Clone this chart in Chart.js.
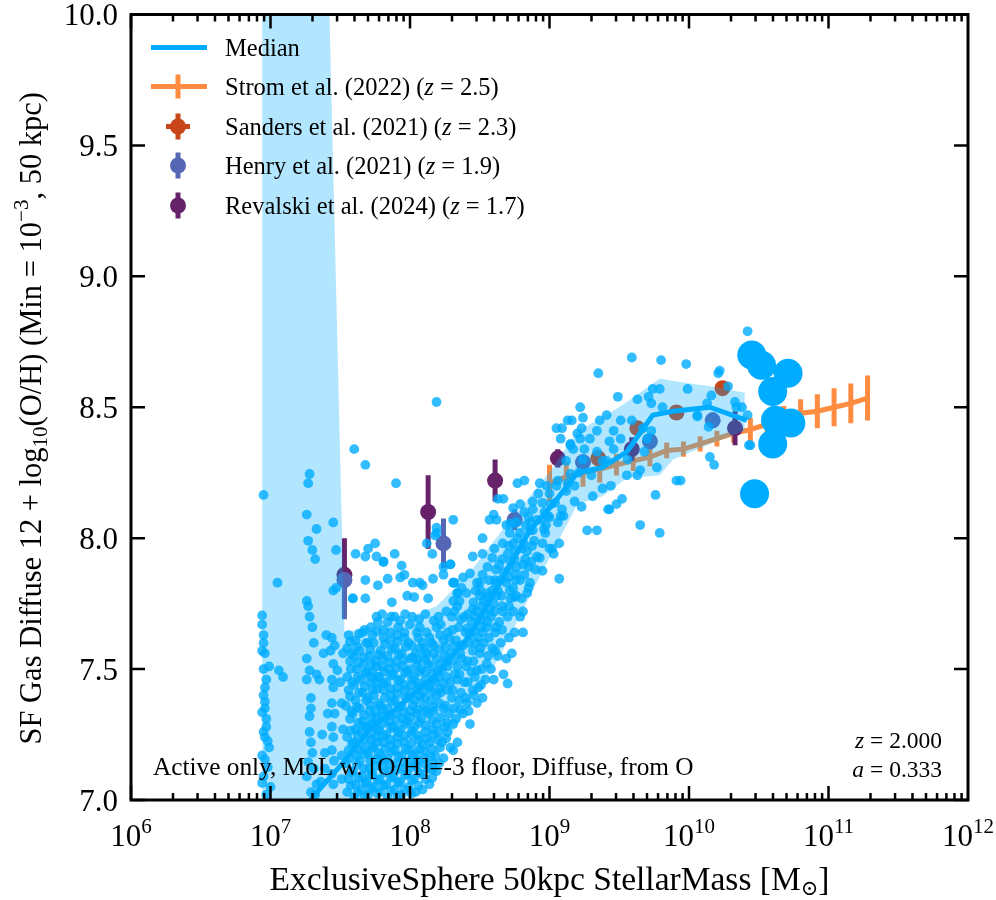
<!DOCTYPE html>
<html lang="en">
<head>
<meta charset="UTF-8">
<title>SF Gas Diffuse metallicity vs stellar mass</title>
<script src="https://cdn.jsdelivr.net/npm/chart.js"></script>
<style>
  body { margin: 0; background: #fff; }
  #wrap { width: 996px; height: 900px; }
</style>
</head>
<body>
<div id="wrap"><canvas id="mzr" width="996" height="900"></canvas></div>
<script>
// values: x = log10(M*/Msun), y = 12 + log10(O/H)

// running median and 16-84% band
const medianLogMass = [7.10, 7.30, 7.50, 7.71, 7.95, 8.19, 8.43, 8.645, 8.86, 9.025, 9.20, 9.38, 9.555, 9.74, 9.885, 10.15, 10.415];
const medianOH      = [6.85, 7.01, 7.13, 7.27, 7.37, 7.48, 7.63, 7.83, 8.03, 8.13, 8.25, 8.27, 8.33, 8.47, 8.485, 8.50, 8.45];
const bandLogMass = [6.94, 7.53, 7.71, 7.95, 8.19, 8.43, 8.645, 8.86, 9.025, 9.20, 9.38, 9.555, 9.79, 9.885, 10.15, 10.40];
const bandLow     = [6.90, 6.98, 7.02, 7.06, 7.17, 7.36, 7.55, 7.78, 7.95, 8.13, 8.16, 8.23, 8.24, 8.30, 8.36, 8.41];
const bandHigh    = [20.6, 7.64, 7.66, 7.69, 7.74, 7.87, 8.02, 8.16, 8.27, 8.41, 8.46, 8.52, 8.61, 8.60, 8.58, 8.555];

// individual galaxies (small dots)
const galaxyDots = [
  // lowest-mass column
  [6.95,8.165],[7.05,7.83],[6.94,7.705],[6.94,7.67],[6.95,7.63],[6.95,7.60],[6.94,7.57],[6.96,7.56],[6.99,7.51],[6.95,7.50],
  [7.06,7.495],[7.09,7.47],[6.97,7.46],[6.96,7.43],[6.95,7.40],[6.96,7.375],[6.96,7.35],[6.94,7.335],[6.97,7.31],[6.97,7.28],
  [6.95,7.26],[6.96,7.24],[6.98,7.225],[6.99,7.20],[6.94,7.17],[6.96,7.155],[6.98,7.125],[6.95,7.09],[6.94,7.065],[7.00,7.05],[6.97,7.02],
  // 7.2 - 7.5
  [7.28,8.245],[7.27,8.21],[7.26,8.09],[7.33,8.035],[7.27,7.99],[7.30,7.955],[7.32,7.92],[7.26,7.76],[7.27,7.74],[7.28,7.70],
  [7.30,7.66],[7.31,7.60],[7.26,7.54],[7.28,7.495],[7.26,7.46],[7.33,7.48],[7.35,7.46],[7.29,7.39],[7.29,7.35],[7.28,7.32],
  [7.28,7.26],[7.29,7.22],[7.30,7.18],[7.27,7.145],[7.31,7.12],[7.26,7.09],[7.33,7.06],[7.29,7.03],[7.32,7.02],[7.36,7.07],[7.39,7.12],
  [7.44,7.62],[7.46,7.59],[7.43,7.57],[7.45,7.52],[7.48,7.495],[7.44,7.46],[7.45,7.43],[7.44,7.37],[7.46,7.33],[7.44,7.28],
  [7.45,7.24],[7.44,7.19],[7.455,7.15],[7.44,7.10],[7.45,7.06],[7.47,7.955],[7.45,8.06],[7.47,7.81],[7.45,7.80],
  [7.38,7.56],[7.40,7.63],[7.37,7.25],[7.41,7.33],[7.39,7.18],[7.51,7.08],[7.51,7.17],[7.52,7.27],[7.51,7.37],[7.50,7.45],[7.52,7.56],
  // dense floor
  [7.55,7.03],[7.56,7.08],[7.54,7.14],[7.56,7.19],[7.55,7.24],[7.57,7.31],[7.54,7.36],[7.56,7.42],[7.55,7.47],[7.57,7.53],[7.55,7.58],[7.56,7.63],
  [7.575,7.055],[7.58,7.105],[7.57,7.16],[7.585,7.215],[7.575,7.265],[7.58,7.34],[7.57,7.395],[7.585,7.45],[7.575,7.50],[7.58,7.56],[7.57,7.605],
  [7.60,7.01],[7.61,7.06],[7.59,7.11],[7.62,7.17],[7.60,7.22],[7.61,7.27],[7.59,7.33],[7.61,7.38],[7.60,7.44],[7.62,7.50],[7.60,7.55],[7.61,7.61],[7.59,7.77],
  [7.625,7.03],[7.63,7.085],[7.62,7.135],[7.635,7.19],[7.625,7.245],[7.63,7.295],[7.62,7.355],[7.635,7.41],[7.625,7.47],[7.63,7.525],[7.62,7.585],[7.635,7.635],
  [7.65,7.04],[7.66,7.09],[7.64,7.15],[7.67,7.20],[7.65,7.26],[7.66,7.30],[7.64,7.35],[7.66,7.41],[7.65,7.46],[7.67,7.52],[7.64,7.57],[7.66,7.64],[7.68,7.84],
  [7.675,7.015],[7.68,7.065],[7.67,7.12],[7.685,7.175],[7.675,7.23],[7.68,7.28],[7.67,7.325],[7.685,7.38],[7.675,7.435],[7.68,7.485],[7.67,7.545],[7.685,7.60],[7.675,7.65],
  [7.70,7.02],[7.69,7.07],[7.71,7.12],[7.70,7.18],[7.72,7.23],[7.69,7.28],[7.71,7.34],[7.70,7.39],[7.72,7.45],[7.69,7.49],[7.71,7.55],[7.70,7.60],[7.72,7.66],[7.70,7.96],
  [7.72,7.045],[7.725,7.095],[7.715,7.15],[7.73,7.205],[7.72,7.255],[7.725,7.31],[7.715,7.365],[7.73,7.42],[7.72,7.47],[7.725,7.52],[7.715,7.575],[7.73,7.63],
  [7.74,7.05],[7.73,7.10],[7.75,7.155],[7.74,7.20],[7.76,7.24],[7.73,7.29],[7.75,7.34],[7.74,7.40],[7.76,7.445],[7.73,7.49],[7.75,7.53],[7.74,7.60],[7.76,7.70],[7.76,7.93],
  [7.765,7.025],[7.77,7.075],[7.76,7.13],[7.775,7.18],[7.765,7.22],[7.77,7.265],[7.76,7.315],[7.775,7.37],[7.765,7.425],[7.77,7.47],[7.76,7.51],[7.775,7.555],[7.765,7.645],[7.77,7.68],
  [7.79,7.03],[7.78,7.08],[7.80,7.13],[7.79,7.17],[7.81,7.22],[7.78,7.27],[7.80,7.32],[7.79,7.36],[7.81,7.42],[7.78,7.47],[7.80,7.51],[7.79,7.57],[7.81,7.62],[7.80,7.71],[7.81,7.91],
  [7.81,7.055],[7.815,7.105],[7.805,7.155],[7.82,7.195],[7.81,7.245],[7.815,7.295],[7.805,7.345],[7.82,7.39],[7.81,7.445],[7.815,7.49],[7.805,7.54],[7.82,7.595],[7.81,7.65],
  [7.84,7.01],[7.83,7.06],[7.85,7.11],[7.84,7.16],[7.86,7.21],[7.83,7.25],[7.85,7.30],[7.84,7.35],[7.86,7.40],[7.83,7.45],[7.85,7.50],[7.84,7.55],[7.86,7.61],[7.84,7.68],[7.84,7.845],[7.87,7.755],
  [7.86,7.035],[7.865,7.085],[7.855,7.135],[7.87,7.185],[7.86,7.23],[7.865,7.275],[7.855,7.325],[7.87,7.375],[7.86,7.425],[7.865,7.475],[7.855,7.525],[7.87,7.575],[7.86,7.64],[7.865,7.70],
  [7.89,7.04],[7.88,7.09],[7.90,7.14],[7.89,7.19],[7.91,7.24],[7.88,7.28],[7.90,7.33],[7.89,7.38],[7.91,7.43],[7.88,7.48],[7.90,7.53],[7.89,7.58],[7.91,7.63],[7.89,7.70],[7.89,7.94],
  [7.91,7.015],[7.915,7.065],[7.905,7.115],[7.92,7.165],[7.91,7.215],[7.915,7.26],[7.905,7.305],[7.92,7.355],[7.91,7.405],[7.915,7.455],[7.905,7.505],[7.92,7.555],[7.91,7.605],[7.915,7.66],
  [7.94,7.02],[7.93,7.07],[7.95,7.12],[7.94,7.17],[7.96,7.22],[7.93,7.27],[7.95,7.31],[7.94,7.36],[7.96,7.42],[7.93,7.46],[7.95,7.51],[7.94,7.56],[7.96,7.64],[7.93,7.685],[7.93,7.85],[7.94,7.895],
  [7.96,7.04],[7.965,7.095],[7.955,7.145],[7.97,7.195],[7.96,7.245],[7.965,7.29],[7.955,7.335],[7.97,7.39],[7.96,7.44],[7.965,7.485],[7.955,7.535],[7.97,7.585],[7.96,7.62],[7.965,7.71],
  [7.99,7.05],[7.98,7.10],[8.00,7.15],[7.99,7.19],[8.01,7.25],[7.98,7.30],[8.00,7.34],[7.99,7.39],[8.01,7.44],[7.98,7.49],[8.00,7.54],[7.99,7.60],[8.00,7.67],[7.98,7.78],[7.96,7.86],
  [8.01,7.025],[8.015,7.075],[8.005,7.125],[8.02,7.17],[8.01,7.215],[8.015,7.265],[8.005,7.315],[8.02,7.36],[8.01,7.41],[8.015,7.46],[8.005,7.50],[8.02,7.545],[8.01,7.59],[8.015,7.70],
  [8.04,7.03],[8.03,7.08],[8.05,7.13],[8.04,7.18],[8.06,7.23],[8.03,7.28],[8.05,7.33],[8.04,7.38],[8.06,7.43],[8.03,7.47],[8.05,7.52],[8.04,7.56],[8.05,7.64],[8.03,7.775],[8.02,7.83],
  [8.06,7.055],[8.065,7.105],[8.055,7.15],[8.07,7.195],[8.06,7.245],[8.065,7.295],[8.055,7.345],[8.07,7.395],[8.06,7.445],[8.065,7.49],[8.055,7.535],[8.07,7.58],[8.06,7.62],[8.065,7.69],
  [8.09,7.04],[8.08,7.10],[8.10,7.16],[8.09,7.21],[8.11,7.26],[8.08,7.31],[8.10,7.36],[8.09,7.41],[8.11,7.46],[8.08,7.50],[8.10,7.55],[8.09,7.60],[8.07,7.66],[8.09,7.82],[8.07,7.83],
  [8.11,7.08],[8.115,7.135],[8.105,7.185],[8.12,7.235],[8.11,7.285],[8.115,7.34],[8.105,7.39],[8.12,7.44],[8.11,7.49],[8.115,7.535],[8.105,7.58],[8.12,7.64],[8.11,7.71],
  [8.14,7.06],[8.13,7.12],[8.15,7.165],[8.14,7.22],[8.16,7.27],[8.13,7.33],[8.15,7.38],[8.14,7.43],[8.16,7.48],[8.13,7.52],[8.12,7.56],[8.14,7.62],[8.13,7.77],[8.12,7.98],[8.16,7.115],
  [8.16,7.085],[8.165,7.14],[8.155,7.195],[8.17,7.25],[8.16,7.305],[8.165,7.355],[8.155,7.415],[8.17,7.46],[8.16,7.51],[8.165,7.56],[8.155,7.60],[8.17,7.685],
  [8.19,7.11],[8.18,7.17],[8.20,7.23],[8.19,7.29],[8.17,7.34],[8.19,7.40],[8.18,7.45],[8.20,7.49],[8.19,7.54],[8.17,7.59],[8.19,7.66],[8.165,7.845],[8.19,8.02],[8.19,8.04],[8.16,7.94],[8.18,8.01],
  [8.21,7.14],[8.215,7.20],[8.205,7.26],[8.22,7.315],[8.21,7.37],[8.215,7.425],[8.205,7.47],[8.22,7.52],[8.21,7.575],[8.215,7.63],[8.205,7.70],
  [8.24,7.16],[8.23,7.22],[8.25,7.28],[8.24,7.35],[8.22,7.41],[8.24,7.445],[8.23,7.50],[8.25,7.55],[8.24,7.61],[8.22,7.67],[8.24,7.86],[8.24,7.89],[8.27,7.26],
  [8.26,7.235],[8.265,7.295],[8.255,7.36],[8.27,7.42],[8.26,7.47],[8.265,7.53],[8.255,7.585],[8.27,7.64],[8.26,7.72],
  [8.29,7.20],[8.28,7.33],[8.30,7.39],[8.29,7.45],[8.27,7.51],[8.29,7.56],[8.28,7.62],[8.30,7.70],[8.29,7.90],[8.31,8.07],[8.31,7.19],[8.31,7.83],
  [8.31,7.29],[8.315,7.35],[8.305,7.42],[8.32,7.48],[8.31,7.535],[8.315,7.59],[8.305,7.65],[8.32,7.72],[8.31,7.76],
  [8.34,7.22],[8.33,7.31],[8.35,7.38],[8.34,7.46],[8.34,7.51],[8.36,7.56],[8.33,7.61],[8.35,7.66],[8.34,7.74],[8.34,7.79],[8.32,7.83],
  [8.36,7.345],[8.365,7.41],[8.355,7.48],[8.37,7.54],[8.36,7.59],[8.365,7.69],[8.355,7.76],[8.37,7.81],
  [8.38,7.33],[8.40,7.39],[8.39,7.45],[8.41,7.53],[8.38,7.59],[8.40,7.64],[8.39,7.70],[8.38,7.85],
  [8.41,7.37],[8.415,7.45],[8.405,7.51],[8.42,7.60],[8.41,7.655],[8.415,7.71],[8.405,7.79],
  [8.43,7.29],[8.42,7.34],[8.45,7.42],[8.44,7.49],[8.45,7.57],[8.43,7.63],[8.44,7.68],[8.45,7.73],[8.43,7.865],[8.45,7.93],
  // rising ridge
  [8.46,7.40],[8.465,7.47],[8.455,7.53],[8.47,7.60],[8.46,7.645],[8.465,7.70],[8.455,7.755],[8.47,7.80],
  [8.48,7.37],[8.49,7.43],[8.48,7.495],[8.50,7.56],[8.49,7.62],[8.51,7.66],[8.48,7.72],[8.50,7.78],[8.50,7.83],[8.52,8.00],[8.48,7.83],
  [8.51,7.44],[8.515,7.50],[8.505,7.58],[8.52,7.64],[8.51,7.69],[8.515,7.74],[8.505,7.80],[8.52,7.86],
  [8.52,7.39],[8.54,7.46],[8.55,7.52],[8.53,7.60],[8.55,7.66],[8.54,7.71],[8.53,7.76],[8.55,7.775],[8.52,7.94],
  [8.56,7.55],[8.565,7.62],[8.555,7.68],[8.57,7.73],[8.56,7.79],[8.565,7.84],[8.555,7.89],
  [8.60,7.46],[8.58,7.50],[8.59,7.58],[8.61,7.64],[8.58,7.70],[8.60,7.75],[8.59,7.80],[8.61,7.84],[8.59,7.925],[8.57,8.07],[8.60,8.09],[8.62,8.07],
  [8.61,7.57],[8.615,7.66],[8.605,7.72],[8.62,7.78],[8.61,7.83],[8.615,7.88],[8.605,7.96],
  [8.67,7.48],[8.63,7.55],[8.65,7.60],[8.64,7.68],[8.66,7.74],[8.63,7.80],[8.65,7.84],[8.64,7.90],[8.67,8.15],[8.63,8.15],
  [8.66,7.65],[8.665,7.72],[8.655,7.78],[8.67,7.87],[8.66,7.92],[8.665,7.98],
  [8.70,7.445],[8.69,7.54],[8.71,7.62],[8.70,7.70],[8.72,7.77],[8.69,7.83],[8.71,7.88],[8.70,7.94],[8.69,8.05],[8.72,8.055],
  [8.71,7.74],[8.715,7.80],[8.705,7.85],[8.72,7.91],[8.71,7.97],[8.715,8.02],
  [8.73,7.56],[8.75,7.64],[8.74,7.72],[8.76,7.78],[8.75,7.775],[8.74,7.81],[8.76,7.86],[8.75,7.92],[8.74,7.98],[8.74,8.115],
  [8.76,7.84],[8.765,7.89],[8.755,7.95],[8.77,8.00],[8.76,8.06],
  [8.81,7.64],[8.79,7.70],[8.81,7.72],[8.80,7.77],[8.79,7.84],[8.81,7.90],[8.80,7.96],[8.79,8.02],[8.79,8.13],[8.77,8.21],
  [8.82,7.86],[8.825,7.92],[8.815,7.98],[8.83,8.05],[8.82,8.10],
  [8.85,7.81],[8.84,7.79],[8.86,7.83],[8.85,7.89],[8.84,7.95],[8.86,8.03],[8.85,8.08],[8.82,8.22],[8.88,8.11],
  [8.87,7.91],[8.875,7.97],[8.865,8.06],[8.88,8.14],
  [8.88,8.03],[8.90,7.88],[8.91,7.93],[8.89,7.99],[8.91,8.07],[8.92,8.17],
  [8.95,7.875],[8.95,7.98],[8.96,8.035],[8.94,8.07],[8.95,8.135],[8.93,8.21],[8.93,7.925],
  [8.97,8.02],[8.975,8.05],[8.965,8.10],[8.98,8.20],
  [9.00,7.96],[9.02,7.96],[9.00,8.08],[8.99,8.085],[9.01,8.13],[9.00,8.17],[9.03,7.94],[9.04,8.135],
  [9.06,8.06],[9.07,7.98],[9.07,7.845],[9.08,8.085],[9.06,8.22],[9.05,8.42],[9.08,8.38],[9.09,8.42],[9.09,8.11],[9.05,8.20],
  [9.13,8.45],[9.10,8.085],[9.12,8.295],[9.13,8.21],[9.15,8.245],[9.15,8.36],[9.16,8.45],[9.15,8.355],[9.12,8.18],[9.18,8.14],[9.17,8.34],[9.18,8.20],
  [9.20,8.40],[9.22,8.50],[9.24,8.46],[9.22,8.38],[9.23,8.12],[9.24,8.30],[9.23,8.42],[9.25,8.34],[9.21,8.25],
  [9.27,8.03],[9.29,8.38],[9.31,8.16],[9.34,8.41],[9.34,8.33],[9.34,8.03],[9.36,8.45],[9.35,8.63],[9.38,8.19],[9.38,8.295],[9.30,8.24],
  [9.41,8.47],[9.41,8.295],[9.42,8.11],[9.43,8.37],[9.43,8.11],[9.46,8.41],[9.46,8.34],[9.48,8.13],[9.49,8.54],[9.44,8.20],
  [9.51,8.45],[9.51,8.38],[9.52,8.15],[9.555,8.24],[9.59,8.45],[9.63,8.53],[9.63,8.24],[9.59,8.69],[9.56,8.30],
  [9.65,8.26],[9.65,8.05],[9.67,8.42],[9.70,8.38],[9.71,8.54],[9.73,8.41],[9.73,8.515],[9.74,8.57],[9.76,8.165],[9.77,8.27],
  [9.79,8.57],[9.79,8.02],[9.81,8.50],[9.80,8.68],[9.68,8.33],
  [9.91,8.22],[9.94,8.22],[9.99,8.57],[9.98,8.665],[10.06,8.47],[10.06,8.465],[10.13,8.515],[10.14,8.425],[10.15,8.31],[10.16,8.545],
  [10.18,8.28],[10.21,8.63],[10.22,8.64],[10.28,8.58],[10.33,8.52],[10.34,8.50],[10.38,8.50],[10.42,8.79],[10.42,8.47],[10.43,8.355],[10.44,8.355],
  // scattered points above the floor
  [8.19,8.52],[7.60,8.34],[7.68,8.28],[7.90,8.21],[7.61,7.94],[7.68,7.93],[7.75,7.98],[7.81,7.91],[7.77,7.82],[7.59,7.77],
  [7.68,7.77],[8.29,7.90],[8.34,7.79],[8.31,7.83]
];

// the few most massive galaxies (large dots)
const massiveLogMass = [10.45, 10.52, 10.71, 10.60, 10.62, 10.73, 10.60, 10.47];
const massiveOH      = [8.70, 8.66, 8.63, 8.56, 8.45, 8.44, 8.36, 8.17];

// Strom et al. (2022), z = 2.5
const stromLogMass = [9.00, 9.12, 9.24, 9.36, 9.48, 9.60, 9.72, 9.84, 9.96, 10.08, 10.20, 10.32, 10.44, 10.56, 10.68, 10.80, 10.92, 11.04, 11.16, 11.28];
const stromOH      = [8.21, 8.234, 8.25, 8.264, 8.28, 8.295, 8.31, 8.335, 8.34, 8.36, 8.38, 8.40, 8.415, 8.435, 8.455, 8.477, 8.485, 8.50, 8.515, 8.535];
const stromErr     = [0.07, 0.06, 0.054, 0.051, 0.041, 0.038, 0.035, 0.03, 0.029, 0.029, 0.03, 0.035, 0.044, 0.048, 0.05, 0.054, 0.065, 0.073, 0.076, 0.086];

// Sanders et al. (2021), z = 2.3
const sandersLogMass = [9.35, 9.63, 9.91, 10.24];
const sandersOH      = [8.305, 8.42, 8.48, 8.573];

// Henry et al. (2021), z = 1.9
const henryLogMass = [7.53, 8.24, 8.75, 9.24, 9.72, 10.17];
const henryOH      = [7.84, 7.98, 8.07, 8.29, 8.37, 8.45];
const henryErrLo   = [0.15, 0.095, 0.04, 0.03, 0.03, 0.03];
const henryErrHi   = [0.03, 0.095, 0.04, 0.03, 0.03, 0.03];

// Revalski et al. (2024), z = 1.7
const revalskiLogMass = [7.53, 8.13, 8.61, 9.06, 9.59, 10.33];
const revalskiOH      = [7.86, 8.10, 8.22, 8.305, 8.34, 8.42];
const revalskiErr     = [0.14, 0.14, 0.08, 0.035, 0.045, 0.065];

const xTickExponents = [6, 7, 8, 9, 10, 11, 12];
const yTickValues = [7.0, 7.5, 8.0, 8.5, 9.0, 9.5, 10.0];

const BLUE = 'rgb(0,172,255)';
const ORANGE = '#ff8c40';
const SANDERS = '#c8461a';
const HENRY = '#5566b4';
const REVALSKI = '#66236a';
const SERIF = "'Liberation Serif', 'DejaVu Serif', serif";

const pt = (m, y) => ({ x: Math.pow(10, m), y: y });
const series = (ms, ys) => ms.map((m, i) => pt(m, ys[i]));
function errorSegments(ms, ys, lo, hi) {
  const out = [];
  ms.forEach((m, i) => {
    out.push(pt(m, ys[i] - lo[i]), pt(m, ys[i] + hi[i]), { x: Math.pow(10, m), y: null });
  });
  return out;
}

function drawRuns(ctx, runs, x, y, align) {
  let w = 0;
  runs.forEach(r => { ctx.font = r.font; w += ctx.measureText(r.text).width; });
  let cx = align === 'center' ? x - w / 2 : (align === 'right' ? x - w : x);
  runs.forEach(r => {
    ctx.font = r.font;
    ctx.fillText(r.text, cx, y + (r.dy || 0));
    cx += ctx.measureText(r.text).width;
  });
}

const axesAndText = {
  id: 'axesAndText',
  afterDraw(chart) {
    const { ctx, chartArea: a, scales } = chart;
    const xs = scales.x, ys = scales.y;
    ctx.save();
    ctx.strokeStyle = '#000';
    ctx.fillStyle = '#000';
    ctx.textAlign = 'left';
    ctx.textBaseline = 'alphabetic';

    // inward ticks on all four sides
    ctx.lineWidth = 2.5;
    ctx.beginPath();
    for (let e = 6; e < 12; e++) {
      for (let k = 1; k < 10; k++) {
        const px = xs.getPixelForValue(k * Math.pow(10, e));
        const len = k === 1 ? 14 : 7;
        ctx.moveTo(px, a.bottom); ctx.lineTo(px, a.bottom - len);
        ctx.moveTo(px, a.top); ctx.lineTo(px, a.top + len);
      }
    }
    yTickValues.forEach(v => {
      const py = ys.getPixelForValue(v);
      ctx.moveTo(a.left, py); ctx.lineTo(a.left + 14, py);
      ctx.moveTo(a.right, py); ctx.lineTo(a.right - 14, py);
    });
    ctx.stroke();

    ctx.lineWidth = 3;
    ctx.strokeRect(a.left, a.top, a.right - a.left, a.bottom - a.top);

    // tick labels
    yTickValues.forEach(v => {
      const py = ys.getPixelForValue(v);
      drawRuns(ctx, [{ text: v.toFixed(1), font: '31px ' + SERIF }], a.left - 13, py + 10.5, 'right');
    });
    xTickExponents.forEach(e => {
      const px = xs.getPixelForValue(Math.pow(10, e));
      drawRuns(ctx, [
        { text: '10', font: '31px ' + SERIF },
        { text: String(e), font: '21px ' + SERIF, dy: -13 }
      ], px, a.bottom + 46, 'center');
    });

    // axis titles
    drawRuns(ctx, [
      { text: 'ExclusiveSphere 50kpc StellarMass [M', font: '33.5px ' + SERIF },
      { text: '\u2299', font: '21px ' + SERIF, dy: 5 },
      { text: ']', font: '33.5px ' + SERIF }
    ], (a.left + a.right) / 2, 890, 'center');

    ctx.save();
    ctx.translate(41, (a.top + a.bottom) / 2 + 11);
    ctx.rotate(-Math.PI / 2);
    drawRuns(ctx, [
      { text: 'SF Gas Diffuse 12 + log', font: '30.5px ' + SERIF },
      { text: '10', font: '21px ' + SERIF, dy: 6 },
      { text: '(O/H) (Min = 10', font: '30.5px ' + SERIF },
      { text: '\u22123', font: '21px ' + SERIF, dy: -13 },
      { text: ', 50 kpc)', font: '30.5px ' + SERIF }
    ], 0, 0, 'center');
    ctx.restore();

    // annotations
    drawRuns(ctx, [{ text: 'Active only, MoL w. [O/H]=-3 floor, Diffuse, from O', font: '25.3px ' + SERIF }],
      a.left + 22, a.bottom - 25, 'left');
    drawRuns(ctx, [
      { text: 'z', font: 'italic 23.5px ' + SERIF },
      { text: ' = 2.000', font: '23.5px ' + SERIF }
    ], a.right - 26, a.bottom - 52, 'right');
    drawRuns(ctx, [
      { text: 'a', font: 'italic 23.5px ' + SERIF },
      { text: ' = 0.333', font: '23.5px ' + SERIF }
    ], a.right - 26, a.bottom - 23, 'right');

    // legend
    const lx = a.left + 20, tx = a.left + 94, cx = a.left + 47;
    const rows = [a.top + 33, a.top + 72, a.top + 112, a.top + 151, a.top + 191];
    ctx.lineCap = 'butt';
    ctx.lineWidth = 5;
    ctx.strokeStyle = BLUE;
    ctx.beginPath(); ctx.moveTo(lx, rows[0]); ctx.lineTo(lx + 56, rows[0]); ctx.stroke();
    ctx.strokeStyle = ORANGE;
    ctx.beginPath();
    ctx.moveTo(lx, rows[1]); ctx.lineTo(lx + 56, rows[1]);
    ctx.moveTo(cx, rows[1] - 12); ctx.lineTo(cx, rows[1] + 12);
    ctx.stroke();
    function dotWithBar(color, y, withCross) {
      ctx.strokeStyle = color; ctx.fillStyle = color;
      ctx.beginPath();
      ctx.moveTo(cx, y - 13); ctx.lineTo(cx, y + 13);
      if (withCross) { ctx.moveTo(cx - 12, y); ctx.lineTo(cx + 12, y); }
      ctx.stroke();
      ctx.beginPath(); ctx.arc(cx, y, 8, 0, Math.PI * 2); ctx.fill();
    }
    dotWithBar(SANDERS, rows[2], true);
    dotWithBar(HENRY, rows[3], false);
    dotWithBar(REVALSKI, rows[4], false);

    ctx.fillStyle = '#000';
    const lf = '24.5px ' + SERIF, lfi = 'italic 24.5px ' + SERIF;
    drawRuns(ctx, [{ text: 'Median', font: lf }], tx, rows[0] + 8, 'left');
    const legendText = [
      ['Strom et al. (2022) (', '2.5'],
      ['Sanders et al. (2021) (', '2.3'],
      ['Henry et al. (2021) (', '1.9'],
      ['Revalski et al. (2024) (', '1.7']
    ];
    legendText.forEach((t, i) => {
      drawRuns(ctx, [
        { text: t[0], font: lf },
        { text: 'z', font: lfi },
        { text: ' = ' + t[1] + ')', font: lf }
      ], tx, rows[i + 1] + 8, 'left');
    });
    ctx.restore();
  }
};

const dotPoints = galaxyDots.map(d => pt(d[0], d[1]));

new Chart(document.getElementById('mzr'), {
  type: 'scatter',
  data: {
    datasets: [
      { type: 'line', label: 'Strom', data: series(stromLogMass, stromOH), borderColor: ORANGE, borderWidth: 5,
        pointRadius: 0, fill: false, order: 10, clip: 0 },
      { type: 'line', label: 'Strom err', data: errorSegments(stromLogMass, stromOH, stromErr, stromErr), borderColor: ORANGE,
        borderWidth: 5, borderCapStyle: 'butt', pointRadius: 0, spanGaps: false, fill: false, order: 10, clip: 0 },
      { type: 'line', label: 'Sanders', data: series(sandersLogMass, sandersOH), showLine: false,
        pointRadius: 8, pointBackgroundColor: SANDERS, pointBorderWidth: 0, order: 9, clip: 0 },
      { type: 'line', label: 'Henry err', data: errorSegments(henryLogMass, henryOH, henryErrLo, henryErrHi), borderColor: HENRY,
        borderWidth: 5, borderCapStyle: 'butt', pointRadius: 0, spanGaps: false, fill: false, order: 7.5, clip: 0 },
      { type: 'line', label: 'Henry', data: series(henryLogMass, henryOH), showLine: false,
        pointRadius: 8, pointBackgroundColor: HENRY, pointBorderWidth: 0, order: 7.5, clip: 0 },
      { type: 'line', label: 'Revalski err', data: errorSegments(revalskiLogMass, revalskiOH, revalskiErr, revalskiErr), borderColor: REVALSKI,
        borderWidth: 5, borderCapStyle: 'butt', pointRadius: 0, spanGaps: false, fill: false, order: 8, clip: 0 },
      { type: 'line', label: 'Revalski', data: series(revalskiLogMass, revalskiOH), showLine: false,
        pointRadius: 8, pointBackgroundColor: REVALSKI, pointBorderWidth: 0, order: 8, clip: 0 },
      { type: 'line', label: 'band high', data: series(bandLogMass, bandHigh), borderWidth: 0, pointRadius: 0,
        fill: '+1', backgroundColor: 'rgba(0,172,255,0.3)', order: 5, clip: 0 },
      { type: 'line', label: 'band low', data: series(bandLogMass, bandLow), borderWidth: 0, pointRadius: 0,
        fill: false, order: 5, clip: 0 },
      { label: 'galaxies', data: dotPoints, pointRadius: 4.9, pointBackgroundColor: 'rgba(0,172,255,0.8)',
        pointBorderWidth: 0, order: 3, clip: 0 },
      { label: 'massive', data: series(massiveLogMass, massiveOH), pointRadius: 14.5, pointBackgroundColor: BLUE,
        pointBorderWidth: 0, order: 2, clip: 0 },
      { type: 'line', label: 'Median', data: series(medianLogMass, medianOH), borderColor: BLUE, borderWidth: 5,
        borderJoinStyle: 'round', pointRadius: 0, fill: false, order: 1, clip: 0 }
    ]
  },
  options: {
    responsive: false,
    animation: false,
    events: [],
    layout: { padding: { left: 131, right: 28, top: 12, bottom: 100 } },
    scales: {
      x: { type: 'logarithmic', min: 1e6, max: 1e12, display: false },
      y: { type: 'linear', min: 7, max: 10, display: false }
    },
    plugins: { legend: { display: false }, tooltip: { enabled: false } }
  },
  plugins: [axesAndText]
});
</script>
</body>
</html>
